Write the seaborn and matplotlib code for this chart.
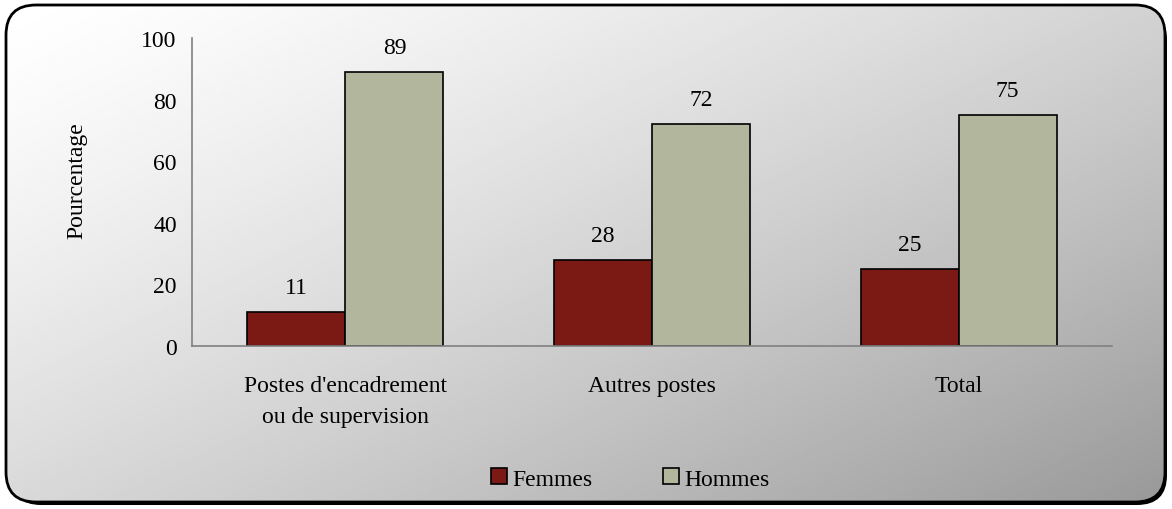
import numpy as np
import pandas as pd
import matplotlib
matplotlib.use("Agg")
import matplotlib.pyplot as plt
import seaborn as sns
from matplotlib.patches import FancyBboxPatch

categories = ["Postes d'encadrement\nou de supervision", "Autres postes", "Total"]
femmes = [11, 28, 25]
hommes = [89, 72, 75]
series = ["Femmes", "Hommes"]
colors = ["#7B1A14", "#B2B69C"]

df = pd.DataFrame({
    "cat": categories * 2,
    "sexe": ["Femmes"] * 3 + ["Hommes"] * 3,
    "pct": femmes + hommes,
})

sns.set_style("white")
plt.rcParams["font.family"] = ["Liberation Serif", "DejaVu Serif"]
plt.rcParams["text.color"] = "black"
plt.rcParams["axes.labelcolor"] = "black"
plt.rcParams["xtick.color"] = "black"
plt.rcParams["ytick.color"] = "black"

W, H = 1172, 510
fs = 17
fig = plt.figure(figsize=(W / 100, H / 100), dpi=100)

# background with gradient and rounded border
bg = fig.add_axes([0, 0, 1, 1])
bg.set_xlim(0, W)
bg.set_ylim(H, 0)
bg.axis("off")
shadow = FancyBboxPatch((11, 11), W - 16, H - 15, boxstyle="round,pad=0,rounding_size=30",
                        fc="black", ec="none", zorder=0)
bg.add_patch(shadow)
box = FancyBboxPatch((6, 6), W - 13, H - 13, boxstyle="round,pad=0,rounding_size=30",
                     fc="none", ec="black", lw=2, zorder=3)
bg.add_patch(box)
yy, xx = np.mgrid[0:1:200j, 0:1:400j]
grad = 1.0 - 0.40 * (0.53 * xx + 0.47 * yy) ** 1.3
img = bg.imshow(grad, cmap="gray", vmin=0, vmax=1, extent=(6, W - 7, H - 7, 6),
                aspect="auto", zorder=1, interpolation="bilinear")
clip = FancyBboxPatch((6, 6), W - 13, H - 13, boxstyle="round,pad=0,rounding_size=30",
                      fc="none", ec="none", transform=bg.transData)
bg.add_patch(clip)
img.set_clip_path(clip)

ax = fig.add_axes([192 / W, 1 - 347 / H, (1112 - 192) / W, (347 - 39) / H])
ax.patch.set_alpha(0)
sns.barplot(data=df, x="cat", y="pct", hue="sexe", hue_order=series, palette=colors,
            width=0.64, gap=0, edgecolor="black", linewidth=1.2, saturation=1,
            ax=ax, legend=True)

for c in ax.containers:
    ax.bar_label(c, fmt="%d", padding=10, fontsize=fs)

ax.set_ylim(0, 100)
ax.set_xlim(-0.5, 2.5)
ax.set_yticks([0, 20, 40, 60, 80, 100])
ax.set_xticks([0.5, 1.5])
ax.set_xticklabels([])
ax.set_xticks([0, 1, 2], minor=True)
ax.set_xticklabels(categories, minor=True, fontsize=fs, linespacing=1.6)
ax.tick_params(axis="x", which="minor", length=0, pad=21)
ax.tick_params(axis="x", which="major", length=5, color="#808080", direction="out")
ax.tick_params(axis="y", length=5, color="#808080", direction="out", labelsize=fs, pad=6)
ax.set_xlabel("")
ax.set_ylabel("Pourcentage", fontsize=fs)
ax.yaxis.set_label_coords(-0.114, 0.54)
for s in ["top", "right"]:
    ax.spines[s].set_visible(False)
for s in ["left", "bottom"]:
    ax.spines[s].set_color("#808080")
    ax.spines[s].set_linewidth(1.2)

handles, labels = ax.get_legend_handles_labels()
ax.get_legend().remove()
fig.legend(handles, labels, loc="center", bbox_to_anchor=(0.538, 1 - 480 / H), ncol=2,
           frameon=False, fontsize=fs, handlelength=0.65, handleheight=0.65,
           handletextpad=0.25, columnspacing=3.0)

fig.savefig("out.png", dpi=100)
